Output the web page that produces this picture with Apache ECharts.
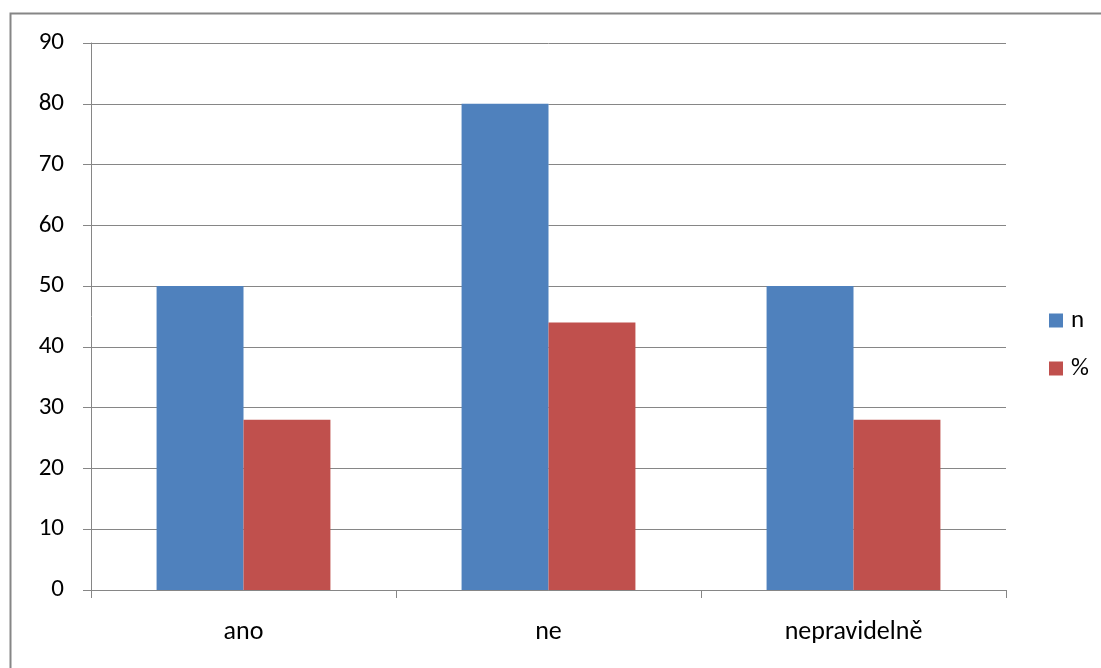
<!DOCTYPE html>
<html>
<head>
<meta charset="utf-8">
<script src="https://cdn.jsdelivr.net/npm/echarts@6/dist/echarts.min.js"></script>
<style>
  html, body { margin: 0; padding: 0; background: #fff; }
  #chart { width: 1101px; height: 668px; }
</style>
</head>
<body>
<div id="chart"></div>
<script>
// Answers and their counts / shares
const categories = ['ano', 'ne', 'nepravidelně'];
const countValues = [50, 80, 50];
const percentValues = [28, 44, 28];
const yTicks = { min: 0, max: 90, step: 10 };

const chart = echarts.init(document.getElementById('chart'), null, { renderer: 'canvas' });
const axisGray = '#868686';
const font = 'Carlito, Calibri, Lato, sans-serif';
const labelSize = 25;

chart.setOption({
  backgroundColor: '#ffffff',
  animation: false,
  textStyle: { fontFamily: font },
  graphic: [{
    type: 'rect',
    shape: { x: 10.5, y: 13.5, width: 1200, height: 800 },
    style: { fill: 'none', stroke: axisGray, lineWidth: 2 },
    silent: true
  }],
  grid: { left: 91, top: 43, right: 95, bottom: 78 },
  legend: {
    orient: 'vertical',
    left: 1049,
    top: 308,
    padding: 0,
    itemWidth: 14,
    itemHeight: 14,
    itemGap: 23,
    icon: 'rect',
    textStyle: { fontSize: labelSize, color: '#000', fontFamily: font, padding: [0, 0, 0, 3] },
    data: ['n', '%']
  },
  xAxis: {
    type: 'category',
    data: categories,
    axisLine: { lineStyle: { color: axisGray, width: 1 } },
    axisTick: { show: true, length: 8, lineStyle: { color: axisGray } },
    axisLabel: { color: '#000', fontSize: 26, margin: 29, fontFamily: font },
    splitLine: { show: false }
  },
  yAxis: {
    type: 'value',
    min: yTicks.min,
    max: yTicks.max,
    interval: yTicks.step,
    axisLine: { show: true, lineStyle: { color: axisGray, width: 1 } },
    axisTick: { show: true, length: 8, lineStyle: { color: axisGray } },
    axisLabel: { color: '#000', fontSize: labelSize, margin: 27, fontFamily: font },
    splitLine: { show: true, lineStyle: { color: axisGray, width: 1 } }
  },
  series: [
    {
      name: 'n',
      type: 'bar',
      data: countValues,
      itemStyle: { color: '#4f81bd' },
      barGap: '0%',
      barCategoryGap: '43%'
    },
    {
      name: '%',
      type: 'bar',
      data: percentValues,
      itemStyle: { color: '#c0504d' },
      barGap: '0%',
      barCategoryGap: '43%'
    }
  ]
});
</script>
</body>
</html>
